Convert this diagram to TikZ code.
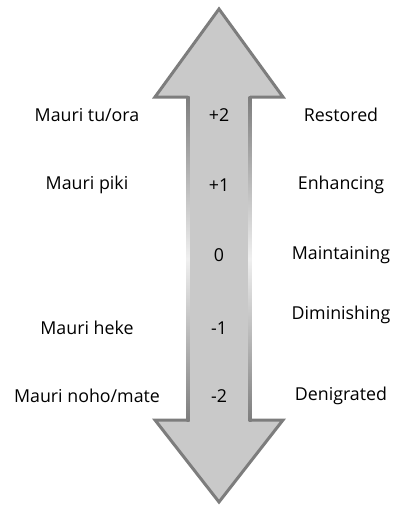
\documentclass[tikz,border=0pt]{standalone}
\usepackage{fontspec}
\setmainfont{Open Sans}
\definecolor{arrowfill}{HTML}{C9C9C9}
\definecolor{arrowline}{HTML}{7D7D7D}
\tikzset{lab/.style={font=\fontsize{17.8}{20}\selectfont, inner sep=0pt}}

\begin{document}
\begin{tikzpicture}[x=1pt,y=-1pt]
\useasboundingbox (0,0) rectangle (393,506);
\fill[arrowfill](219,9)--(283,97)--(250,97)--(250,420)--(283,420)--(219,502)--(155,420)--(188,420)--(188,97)--(155,97)--cycle;
\draw[arrowline, line width=3pt, line join=miter](250,97)--(283,97)--(219,9)--(155,97)--(188,97);
\draw[arrowline, line width=3pt, line join=miter](250,420)--(283,420)--(219,502)--(155,420)--(188,420);
% shaft edges fade out in the middle
\shade[top color=arrowline, bottom color=arrowline, middle color=white!88!arrowline](186.5,96) rectangle (189.5,421.5);
\shade[top color=arrowline, bottom color=arrowline, middle color=white!88!arrowline](248.5,96) rectangle (251.5,421.5);


	\node[lab] (l2) at(87,115){Mauri tu/ora};
	\node[lab] (l1) at(87,185){Mauri piki};
	\node[lab] (lm1) at(87,328){Mauri heke};
	\node[lab] (lm2) at(87,396){Mauri noho/mate};

	\node[lab] (n2) at(219,115){+2};
	\node[lab] (n1) at(219,185){+1};
	\node[lab] (n0) at(219,255){0};
	\node[lab] (nm1) at(219,328){-1};
	\node[lab] (nm2) at(219,396){-2};

	\node[lab] (r2) at(341,115){Restored};
	\node[lab] (r1) at(341,185){Enhancing};
	\node[lab] (r0) at(341,255){Maintaining};
	\node[lab] (rm1) at(341,315){Diminishing};
	\node[lab] (rm2) at(341,396){Denigrated};
\end{tikzpicture}
\end{document}
